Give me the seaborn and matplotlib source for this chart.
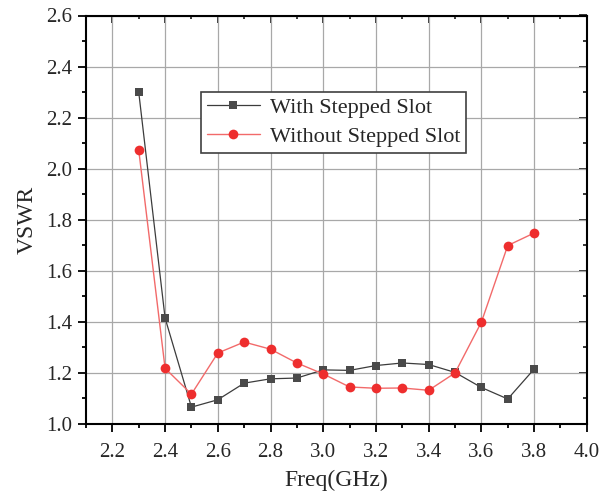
import numpy as np
import pandas as pd
import matplotlib
matplotlib.use("Agg")
import matplotlib.pyplot as plt
import seaborn as sns
from matplotlib.ticker import MultipleLocator, FormatStrFormatter

freq = [2.3, 2.4, 2.5, 2.6, 2.7, 2.8, 2.9, 3.0, 3.1, 3.2, 3.3, 3.4, 3.5, 3.6, 3.7, 3.8]
with_slot = [2.30, 1.415, 1.066, 1.095, 1.160, 1.177, 1.180, 1.212, 1.210, 1.229, 1.239, 1.233, 1.202, 1.143, 1.098, 1.215]
without_slot = [2.073, 1.218, 1.117, 1.278, 1.321, 1.293, 1.239, 1.196, 1.145, 1.140, 1.141, 1.132, 1.200, 1.399, 1.699, 1.748]
labels = ["With Stepped Slot", "Without Stepped Slot"]

sns.set_theme(style="white")
plt.rcParams['font.family'] = ['Liberation Serif', 'DejaVu Serif']

fig = plt.figure(figsize=(6.1, 5.0), dpi=100)
ax = fig.add_axes([0.141, 0.152, 0.821, 0.817])

df1 = pd.DataFrame({"f": freq, "v": with_slot})
df2 = pd.DataFrame({"f": freq, "v": without_slot})
sns.lineplot(data=df1, x="f", y="v", ax=ax, color="#3c3c3c", lw=0.9,
             marker="s", markersize=6, markeredgewidth=0, label=labels[0], zorder=3,
             markerfacecolor="#4a4a4a")
sns.lineplot(data=df2, x="f", y="v", ax=ax, color="#f26a6a", lw=1.0,
             marker="o", markersize=7, markeredgewidth=0, label=labels[1], zorder=3,
             markerfacecolor="#ee2e2e")

ax.set_xlim(2.1, 4.0)
ax.set_ylim(1.0, 2.6)
ax.xaxis.set_minor_locator(MultipleLocator(0.1))
ax.yaxis.set_major_locator(MultipleLocator(0.2))
ax.yaxis.set_minor_locator(MultipleLocator(0.1))
ax.set_xticks(np.arange(2.2, 4.01, 0.2))
ax.xaxis.set_major_formatter(FormatStrFormatter('%.1f'))
ax.yaxis.set_major_formatter(FormatStrFormatter('%.1f'))
ax.grid(True, which='major', color='#a8a8a8', lw=0.9)
ax.set_axisbelow(True)

for s in ax.spines.values():
    s.set_visible(True)
    s.set_color('black')
    s.set_linewidth(1.5)

ax.tick_params(which='both', direction='out', color='black', width=1.3,
               bottom=True, left=True, top=False, right=False, labelsize=15, pad=4.5)
ax.tick_params(axis='x', which='both', pad=8)
ax.tick_params(which='major', length=5.5)
ax.tick_params(which='minor', length=3)

# mirrored inward ticks on top and right
axt = ax.secondary_xaxis('top')
axt.xaxis.set_major_locator(MultipleLocator(0.2))
axt.xaxis.set_minor_locator(MultipleLocator(0.1))
axt.tick_params(which='both', direction='in', width=1.3, labeltop=False)
axt.tick_params(which='major', length=5.5)
axt.tick_params(which='minor', length=3)
axt.spines['top'].set_visible(False)
axr = ax.secondary_yaxis('right')
axr.yaxis.set_major_locator(MultipleLocator(0.2))
axr.yaxis.set_minor_locator(MultipleLocator(0.1))
axr.tick_params(which='both', direction='in', width=1.3, labelright=False)
axr.tick_params(which='major', length=5.5)
axr.tick_params(which='minor', length=3)
axr.spines['right'].set_visible(False)

ax.set_xlabel("Freq(GHz)", fontsize=17, labelpad=6)
ax.set_ylabel("VSWR", fontsize=17, labelpad=6)

leg = ax.legend(loc='upper left', bbox_to_anchor=(0.2295, 0.8127), fontsize=16,
                frameon=True, fancybox=False, edgecolor='#404040', framealpha=1,
                handlelength=2.4, borderpad=0.25, labelspacing=0.38, handletextpad=0.45,
                borderaxespad=0)
leg.get_frame().set_linewidth(1.2)

fig.savefig("out.png", dpi=100)
